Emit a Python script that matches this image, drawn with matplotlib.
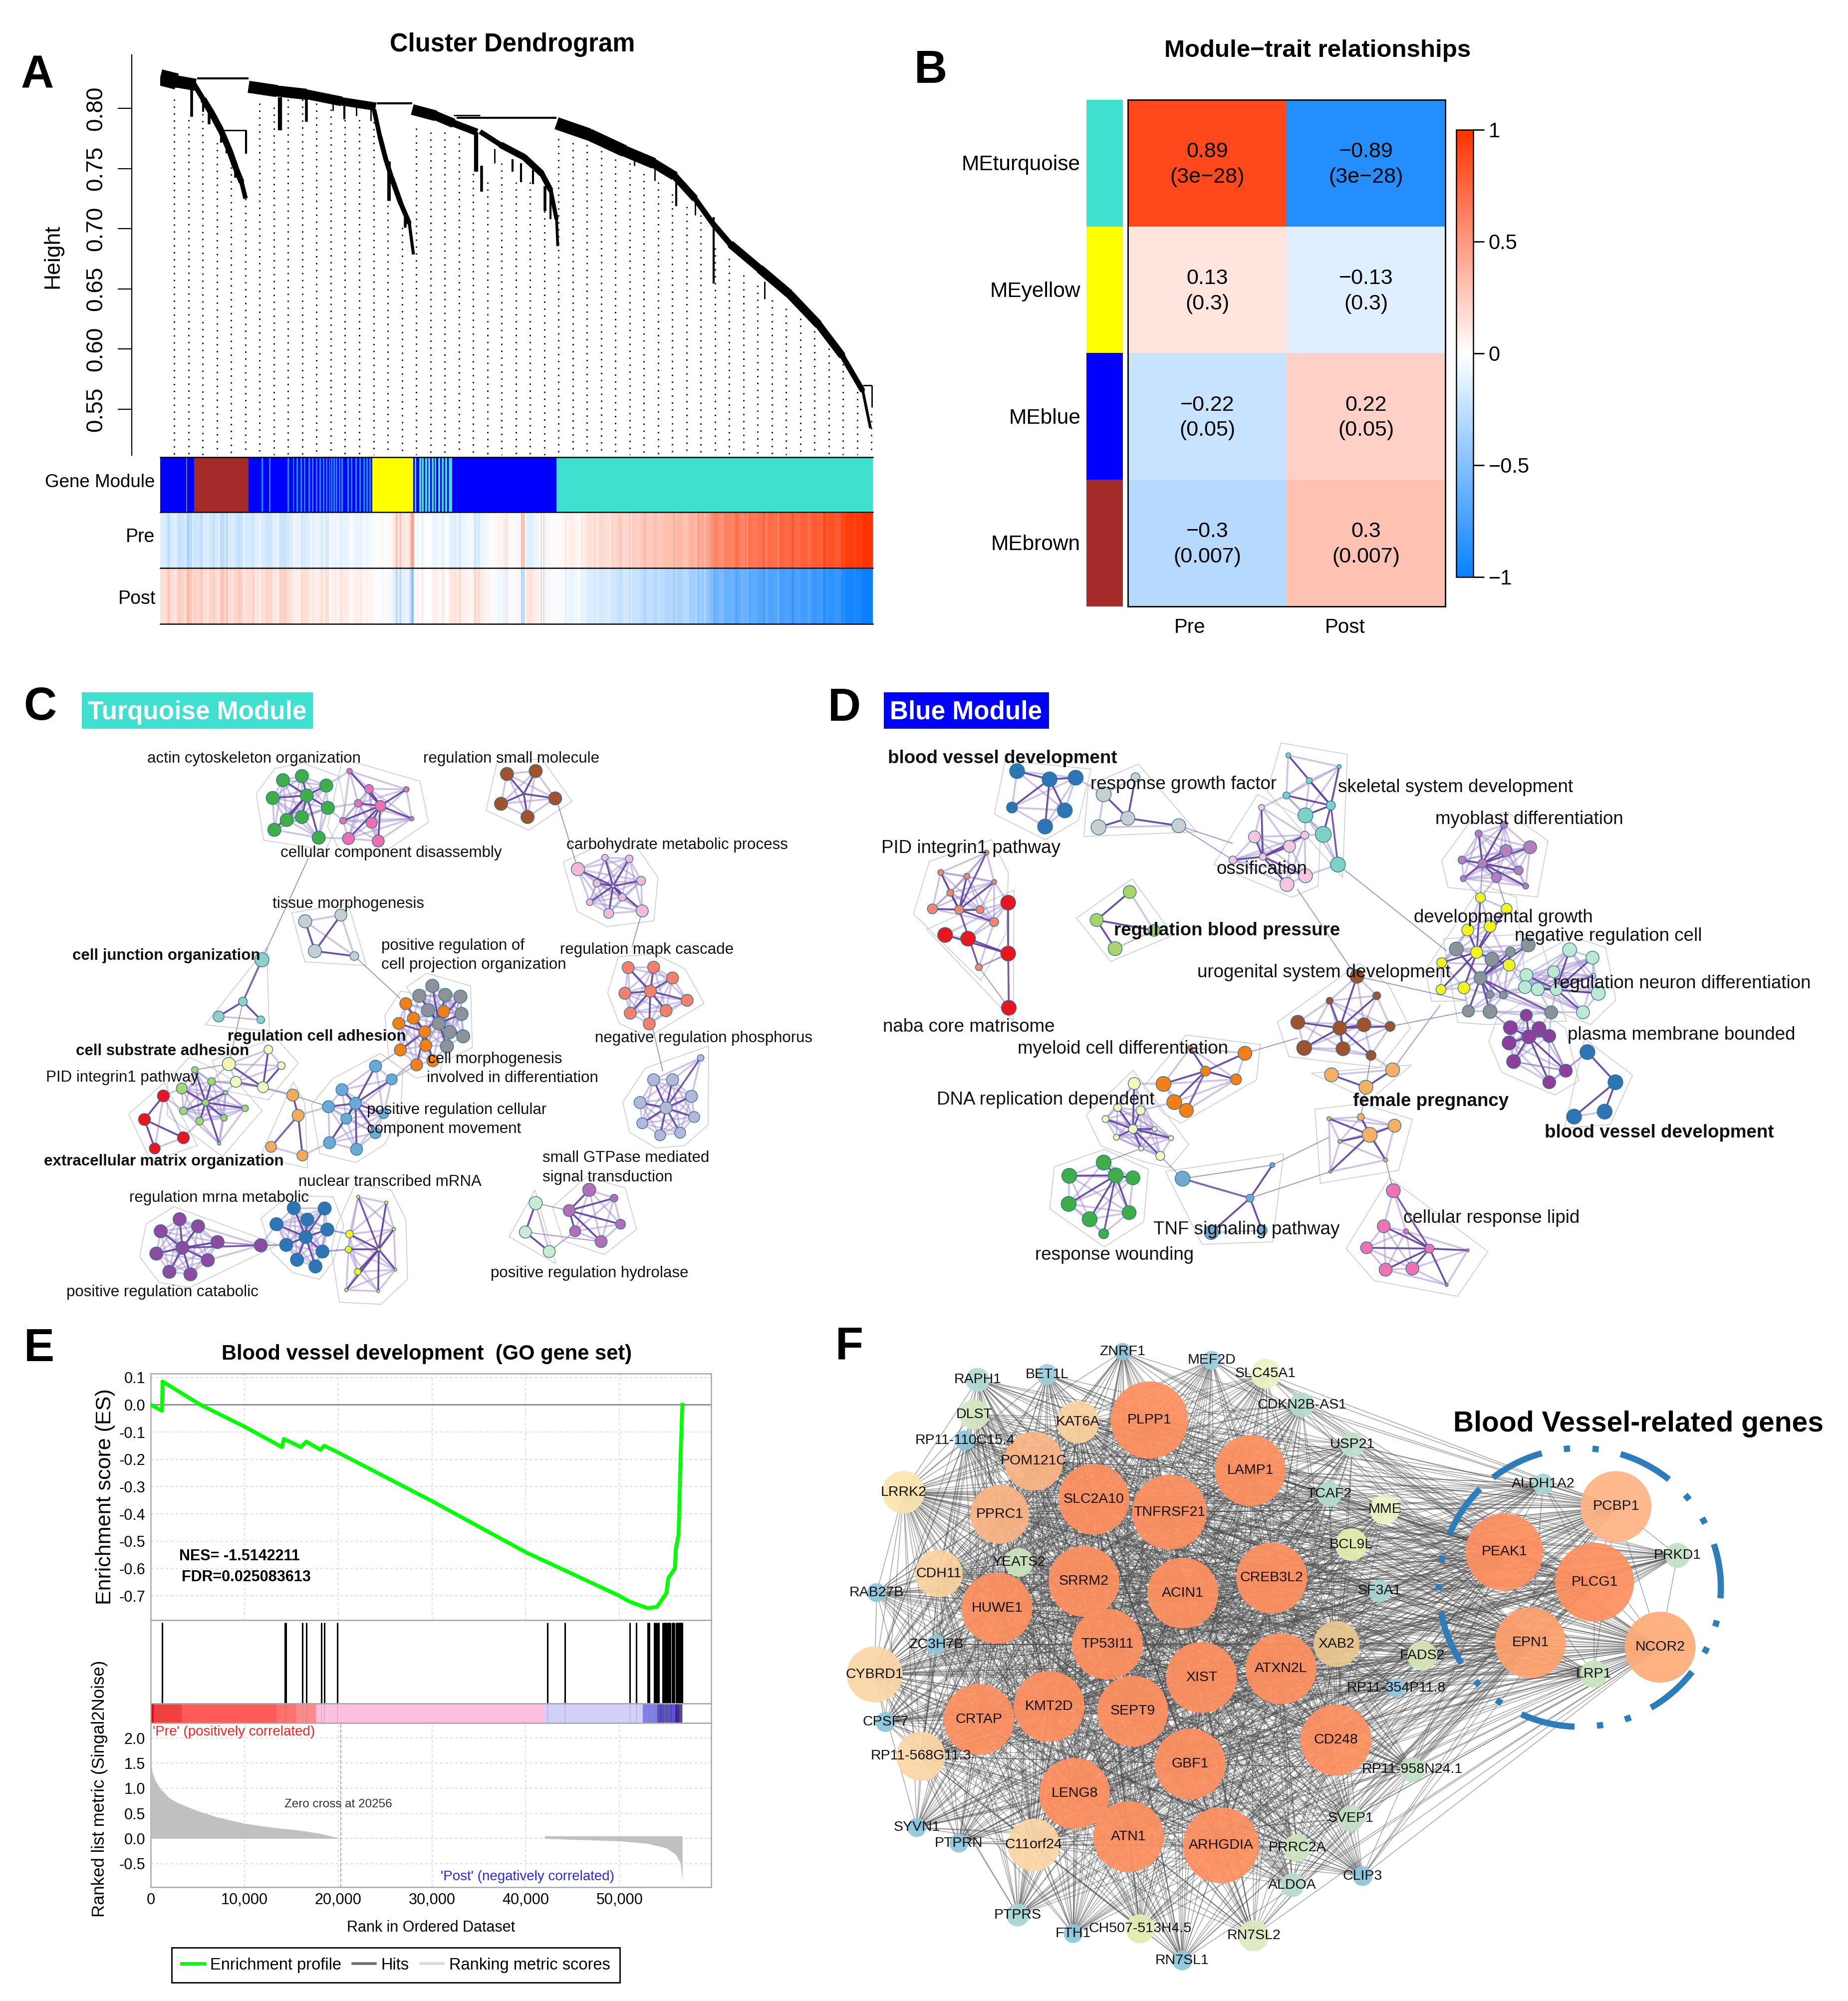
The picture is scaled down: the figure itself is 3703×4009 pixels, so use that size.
import numpy as np
import matplotlib
matplotlib.use("Agg")
import matplotlib.pyplot as plt
from matplotlib.collections import LineCollection
from matplotlib.colors import LinearSegmentedColormap
from matplotlib.lines import Line2D
from matplotlib.patches import Rectangle

plt.rcParams['font.family'] = ['Liberation Sans', 'DejaVu Sans']

W, H = 3703, 4009
PX = 1.389  # pixels per point at dpi 100

# ---------- panel A: dendrogram (x = gene order, y = height) ----------
band_a = ([272, 300, 332], [.8258, .8223, .8196], [27, 20, 15])
band_brown = ([328, 345, 360, 375, 390, 400, 410, 417],
              [.8213, .8076, .7955, .7818, .7646, .7508, .7388, .725],
              [6, 9, 10, 9, 9, 9, 8, 5])
band_c = ([422, 470, 520, 580, 638], [.8179, .8144, .8117, .8058, .8014], [18, 17, 15, 13, 11])
band_d = ([635, 645, 655, 665, 680, 695, 702], [.799, .7766, .7577, .7422, .7216, .7044, .6786],
          [6, 7, 7, 7, 8, 6, 3])
band_e = ([700, 740, 770, 810], [.799, .7938, .7876, .7801], [16, 15, 12, 9])
band_f = ([815, 850, 890, 920, 935, 945, 947], [.7807, .7697, .7594, .7457, .7319, .7078, .6855],
          [6, 9, 10, 9, 7, 5, 3])
band_g = ([945, 1000, 1060, 1110, 1145, 1180, 1210, 1240, 1290, 1340, 1390, 1430, 1465, 1478],
          [.7876, .7783, .7646, .7543, .7439, .725, .7044, .6872, .6666, .6459, .6202, .5944, .5651, .5342],
          [18, 18, 17, 15, 12, 9, 7, 10, 13, 13, 12, 10, 6, 2])
# spikes and merges: x1, x2, height top, height bottom, width
dendro_segments = [
    (325, 325, .8230, .7928, 4), (345, 345, .8093, .7972, 3), (355, 355, .7972, .7869, 4),
    (375, 375, .7801, .7715, 3), (385, 385, .7732, .7629, 3), (400, 400, .7525, .7422, 4),
    (475, 475, .8093, .7818, 6), (520, 520, .8144, .7887, 4), (565, 565, .8041, .7979, 2),
    (585, 585, .8024, .7911, 3), (605, 605, .8007, .7938, 2), (630, 630, .799, .7897, 2),
    (660, 660, .756, .7233, 5), (688, 688, .7147, .701, 4), (808, 808, .78, .7474, 6),
    (818, 818, .7525, .7309, 4), (840, 840, .7663, .7543, 2), (870, 870, .7577, .7474, 3),
    (885, 885, .7543, .7388, 3), (905, 905, .7491, .7371, 3), (925, 925, .7354, .7147, 4),
    (935, 935, .7285, .7078, 3), (1077, 1077, .7594, .7525, 2), (1112, 1112, .7508, .7398, 2),
    (1148, 1148, .7474, .7188, 3), (1180, 1180, .7216, .7113, 2), (1212, 1212, .7096, .6545, 3),
    (1298, 1298, .6563, .6418, 2),
    (335, 422, .8248, .8248, 3), (380, 418, .7818, .7818, 2), (418, 418, .7818, .7622, 3),
    (640, 700, .8041, .8041, 3), (775, 945, .7921, .7921, 3), (770, 815, .7941, .7941, 2),
    (1465, 1480, .5697, .5697, 2), (1480, 1480, .5697, .5515, 2),
]
guide_tops = [.8076, .7904, .7955, .7715, .7629, .725, .8041, .8007, .8076, .8076, .8041, .799, .7904,
              .7904, .7887, .725, .701, .7835, .78, .78, .7766, .7457, .7388, .7543, .7388, .7388,
              .7147, .7749, .7715, .7697, .7646, .7577, .7543, .7457, .7388, .7285, .7182, .7113,
              .6838, .6752, .6614, .6528, .6408, .6339, .6253, .615, .6064, .5875, .5703, .5462]
guide_first, guide_step = 296, 24.16

module_blocks = [(272, 330, '#0000FF'), (330, 422, '#A52A2A'), (422, 632, '#0000FF'),
                 (632, 702, '#FFFF00'), (702, 768, '#0000FF'), (768, 945, '#0000FF'),
                 (945, 1482, '#40E0D0')]
module_stripes_a = [444, 457, 488, 497, 503, 510, 516, 524, 530, 536, 542, 548, 553, 558, 562, 566,
                    570, 575, 580, 590, 596, 603, 610, 617, 622, 627]
module_stripes_b = [704, 712, 716, 722, 727, 733, 738, 744, 750, 756, 762, 765]

pre_segments = [
    (272, 330, [-.15, -.18, -.15, -.22, -.18, -.28]),
    (330, 422, [-.2, -.16, -.2, -.17, -.28, -.16, -.18, -.22, -.16]),
    (422, 632, [-.17, -.13, -.16, -.2, -.13, -.22, -.17, -.13, -.09, -.16, -.13, -.09, -.1, -.15, -.08, -.07,
                -.1, -.05, -.08, -.05, -.07]),
    (632, 702, [-.03, 0, .02, -.02, .05, .12, .16, .12, .1, .2]),
    (702, 945, [-.05, -.02, 0, -.08, -.05, -.02, -.12, -.17, -.08, -.05, -.12, -.08, -.05, .03, .06, .08,
                .03, -.04, -.08, -.14, -.08, -.02, -.05, .02]),
    (945, 1210, [.03, .05, .08, .05, .1, .15, .12, .18, .15, .2, .22, .18, .25, .22, .28, .25, .3, .28,
                 .32, .3, .35, .3, .38, .35, .42, .45]),
    (1210, 1482, [.6, .55, .62, .6, .65, .6, .68, .65, .7, .65, .72, .7, .75, .72, .75, .72, .78, .75,
                  .8, .78, .82, .85, .82, .9, .95, .92, .95, 1, 1]),
]
# thin single gene stripes on top of the smooth strip
pre_line_x = [285, 296, 303, 318, 326, 341, 352, 362, 371, 384, 393, 405, 413, 429, 441, 452, 471, 483,
              498, 511, 527, 545, 559, 578, 594, 612, 626, 648, 672, 679, 697, 700, 716, 731, 752, 775,
              806, 812, 833, 858, 885, 888, 918, 922, 960, 983, 1008, 1035, 1052, 1071, 1094, 1118, 1143,
              1167, 1185, 1196, 1206, 1226, 1249, 1268, 1296, 1320, 1345, 1372, 1398, 1425, 1446]
pre_line_v = [-.3, -.12, -.25, -.4, -.12, -.3, -.1, -.28, -.12, -.33, -.12, -.25, -.1, -.24, -.08, -.22,
              -.06, -.24, -.04, -.2, -.04, -.18, -.02, -.16, -.03, -.12, -.02, .04, .32, .3, .42, .5,
              -.12, -.02, -.14, -.02, -.22, -.2, -.02, -.15, .35, .3, -.2, .2, .12, .02, .2, .12, .3,
              .16, .35, .22, .42, .28, .5, .32, .55, .5, .72, .55, .8, .6, .85, .68, .92, .8, 1]

# ---------- panel B ----------
me_names = ['MEturquoise', 'MEyellow', 'MEblue', 'MEbrown']
me_colors = ['#40E0D0', '#FFFF00', '#0000FF', '#A52A2A']
trait_names = ['Pre', 'Post']
cor_pre = [.89, .13, -.22, -.3]
cor_post = [-.89, -.13, .22, .3]
cell_cor_pre = ['0.89', '0.13', '\u22120.22', '\u22120.3']
cell_cor_post = ['\u22120.89', '\u22120.13', '0.22', '0.3']
cell_p = ['(3e\u221228)', '(0.3)', '(0.05)', '(0.007)']

# ---------- panel C: clusters of (x, y, size) ----------
c_green = [(523, 257, 24), (558, 247, 24), (603, 270, 24), (504, 300, 24), (567, 294, 24), (606, 324, 24),
           (530, 353, 24), (558, 346, 24), (507, 377, 24), (589, 396, 24)]
c_pink = [(646, 235, 10), (682, 278, 16), (751, 279, 10), (662, 313, 14), (703, 319, 20), (634, 355, 12),
          (687, 360, 20), (761, 350, 8), (644, 398, 22), (699, 404, 22)]
c_brown = [(937, 242, 24), (990, 235, 24), (926, 314, 24), (1026, 301, 24), (975, 346, 24), (968, 290, 4)]
c_lightpink = [(1068, 472, 24), (1118, 444, 12), (1163, 447, 14), (1185, 500, 16), (1103, 506, 14),
               (1133, 513, 6), (1150, 540, 14), (1090, 552, 12), (1125, 579, 18), (1187, 573, 22)]
c_tissue = [(564, 598, 24), (630, 583, 22), (582, 670, 24), (655, 682, 16)]
c_junction = [(484, 691, 26), (449, 792, 16), (404, 828, 20), (482, 836, 14)]
c_salmon = [(1161, 710, 22), (1208, 709, 22), (1243, 735, 22), (1155, 772, 22), (1202, 767, 22),
            (1270, 789, 22), (1165, 820, 22), (1231, 814, 22), (1200, 846, 22)]
c_lavender = [(1295, 928, 12), (1208, 981, 22), (1243, 981, 22), (1183, 1036, 22), (1278, 1021, 22),
              (1231, 1049, 22), (1187, 1086, 20), (1283, 1071, 20), (1220, 1115, 20), (1257, 1109, 20)]
c_grey = [(799, 754, 24), (775, 778, 24), (823, 776, 24), (851, 780, 24), (791, 813, 24), (853, 822, 24),
          (811, 845, 24), (831, 866, 24), (856, 876, 24), (826, 900, 24)]
c_orange = [(750, 797, 22), (820, 816, 22), (764, 832, 22), (737, 845, 22), (785, 865, 22), (787, 898, 22),
            (740, 909, 22), (770, 945, 22), (800, 935, 22)]
c_paleyellow = [(496, 908, 16), (423, 943, 24), (520, 947, 14), (436, 986, 20), (486, 999, 20)]
c_yellowgreen = [(360, 957, 12), (336, 1002, 20), (391, 985, 14), (417, 1012, 8), (380, 1036, 12),
                 (339, 1056, 14), (453, 1050, 12), (414, 1073, 12), (369, 1081, 14), (405, 1135, 6)]
c_red = [(302, 1020, 22), (267, 1077, 22), (339, 1121, 22), (286, 1147, 20)]
c_lightorange = [(541, 1018, 22), (551, 1067, 22), (501, 1143, 20), (559, 1164, 20)]
c_steel = [(694, 948, 22), (724, 980, 20), (632, 1005, 22), (607, 1046, 22), (657, 1038, 22), (640, 1075, 20),
           (709, 1063, 18), (694, 1110, 20), (609, 1133, 22), (659, 1149, 22)]
c_purple = [(332, 1318, 24), (297, 1347, 24), (366, 1335, 24), (289, 1401, 24), (337, 1387, 24),
            (402, 1373, 24), (384, 1417, 24), (313, 1445, 24), (352, 1451, 24), (482, 1381, 24)]
c_blue = [(543, 1291, 24), (600, 1292, 24), (511, 1330, 24), (568, 1319, 24), (605, 1343, 24), (529, 1380, 24),
          (565, 1361, 24), (596, 1396, 24), (549, 1416, 24), (583, 1432, 24)]
c_yellow = [(662, 1264, 6), (714, 1278, 6), (728, 1342, 6), (646, 1354, 14), (644, 1391, 12), (700, 1391, 6),
            (661, 1445, 12), (731, 1440, 5), (640, 1489, 6), (699, 1492, 5)]
c_lilac = [(1089, 1247, 24), (1135, 1267, 14), (1052, 1297, 22), (1147, 1330, 18), (1063, 1347, 20),
           (1111, 1372, 22)]
c_palegreen = [(990, 1279, 24), (971, 1349, 22), (1015, 1396, 22)]
c_clusters = [c_green, c_pink, c_brown, c_lightpink, c_tissue, c_junction, c_salmon, c_lavender, c_grey,
              c_orange, c_paleyellow, c_yellowgreen, c_red, c_lightorange, c_steel, c_purple, c_blue,
              c_yellow, c_lilac, c_palegreen]
c_colors = ['#3FAE49', '#EE6FB0', '#A0522D', '#F4B8D8', '#C8CDD2', '#8ECFC9', '#F47F6B', '#B3B8DA', '#8D9299',
            '#F57F17', '#F2F7B5', '#A8D66E', '#E8171F', '#F5A95B', '#6BAAD6', '#8E4A9E', '#2E75B6', '#F7F120',
            '#B36FB5', '#C9EBCF']
c_bridges = [(570, 445, 484, 691), (1030, 310, 1068, 472), (1187, 573, 1168, 660), (655, 682, 740, 785),
             (1205, 850, 1225, 960), (484, 691, 449, 792), (541, 1018, 607, 1046), (724, 980, 770, 930),
             (436, 986, 541, 1018), (391, 985, 486, 999), (402, 1373, 482, 1381), (482, 1381, 529, 1380),
             (605, 1343, 646, 1354), (596, 1396, 644, 1391), (423, 943, 360, 957), (449, 792, 423, 943),
             (694, 948, 740, 909), (551, 1067, 501, 1143), (1052, 1297, 990, 1279), (1015, 1396, 1063, 1347),
             (1111, 1372, 971, 1349)]
c_labels = ['actin cytoskeleton organization', 'regulation small molecule', 'cellular component disassembly',
            'carbohydrate metabolic process', 'tissue morphogenesis', 'positive regulation of',
            'cell projection organization', 'regulation mapk cascade', 'cell junction organization',
            'regulation cell adhesion', 'negative regulation phosphorus', 'cell substrate adhesion',
            'cell morphogenesis', 'involved in differentiation', 'PID integrin1 pathway',
            'positive regulation cellular', 'component movement', 'extracellular matrix organization',
            'small GTPase mediated', 'signal transduction', 'nuclear transcribed mRNA',
            'regulation mrna metabolic', 'positive regulation hydrolase', 'positive regulation catabolic']
c_label_x = [272, 782, 518, 1047, 504, 705, 705, 1035, 134, 421, 1099, 140, 790, 789, 85, 678, 678, 81, 1003,
             1003, 552, 239, 907, 123]
c_label_y = [203, 203, 431, 412, 554, 655, 701, 665, 679, 875, 879, 910, 929, 975, 974, 1052, 1098, 1176, 1168,
             1215, 1226, 1265, 1447, 1492]
c_bold = ['cell junction organization', 'regulation cell adhesion', 'cell substrate adhesion',
          'extracellular matrix organization']

# ---------- panel D ----------
d_blue = [(265, 235, 30), (316, 255, 30), (357, 251, 30), (340, 330, 30), (257, 323, 22), (309, 369, 30)]
d_grey = [(451, 250, 18), (401, 291, 30), (439, 349, 28), (393, 371, 30), (519, 367, 28)]
d_teal = [(691, 197, 10), (771, 224, 8), (724, 258, 12), (688, 294, 14), (758, 318, 18), (718, 342, 30),
          (746, 388, 32), (769, 461, 30)]
d_ossif = [(649, 323, 12), (638, 394, 24), (717, 390, 16), (693, 417, 24), (604, 450, 16), (651, 442, 14),
           (718, 488, 28), (689, 509, 28)]
d_salmon = [(217, 432, 10), (145, 480, 12), (186, 489, 12), (229, 503, 10), (160, 529, 14), (132, 568, 20),
            (174, 570, 18), (207, 570, 16), (229, 600, 18), (205, 709, 14)]
d_red = [(251, 553, 30), (152, 631, 30), (188, 640, 30), (251, 676, 30), (252, 807, 30)]
d_yellowgreen = [(442, 527, 26), (390, 595, 26), (480, 620, 24), (419, 664, 28)]
d_lilac = [(990, 386, 14), (1030, 365, 14), (1071, 419, 26), (1033, 427, 24), (964, 450, 16), (996, 458, 18),
           (1053, 475, 18), (966, 495, 12), (1018, 492, 20), (1064, 513, 12)]
d_yellow = [(993, 541, 20), (1034, 568, 22), (973, 619, 24), (1008, 610, 24), (932, 698, 20), (987, 673, 24),
            (1038, 704, 24), (931, 763, 20), (967, 759, 24)]
d_darkgrey = [(955, 665, 28), (1040, 672, 20), (1068, 655, 28), (1011, 690, 28), (993, 735, 26), (1008, 775, 16),
              (1029, 776, 16), (974, 815, 24), (1008, 816, 28), (1104, 818, 26)]
d_mint = [(1133, 667, 28), (1169, 686, 26), (1108, 720, 24), (1065, 728, 26), (1063, 757, 26), (1083, 762, 26),
          (1112, 763, 24), (1178, 772, 28), (1154, 818, 26), (1170, 730, 10)]
d_purple = [(1065, 825, 24), (1040, 855, 28), (1085, 857, 28), (1069, 877, 28), (1101, 875, 26), (1038, 892, 28),
            (1045, 937, 28), (1127, 959, 26), (1101, 987, 26)]
d_blue2 = [(1161, 914, 30), (1205, 987, 30), (1188, 1058, 30), (1140, 1070, 30)]
d_brown = [(799, 731, 28), (830, 778, 16), (756, 790, 14), (706, 842, 28), (772, 856, 28), (810, 848, 28),
           (851, 852, 20), (716, 904, 30), (777, 906, 28), (821, 922, 20)]
d_orange = [(537, 904, 10), (623, 917, 28), (561, 960, 20), (609, 980, 22), (495, 991, 30), (512, 1035, 30),
            (531, 1055, 28)]
d_paleyellow = [(449, 990, 24), (423, 1048, 16), (459, 1055, 18), (404, 1076, 14), (447, 1100, 18), (481, 1100, 10),
                (421, 1120, 12), (507, 1122, 10), (460, 1147, 10), (490, 1165, 18)]
d_lightorange = [(759, 969, 28), (855, 957, 28), (813, 999, 28)]
d_pregnancy = [(805, 1071, 14), (858, 1092, 26), (819, 1114, 30), (755, 1075, 8), (772, 1130, 8), (844, 1175, 8),
               (757, 1203, 6)]
d_green = [(401, 1181, 30), (347, 1213, 30), (420, 1212, 30), (447, 1218, 28), (346, 1281, 30), (379, 1318, 30),
           (441, 1302, 28), (401, 1353, 20)]
d_sky = [(525, 1220, 30), (666, 1187, 10), (631, 1267, 16), (570, 1350, 28), (650, 1345, 20)]
d_hotpink = [(856, 1249, 28), (841, 1335, 26), (876, 1347, 10), (814, 1387, 24), (913, 1389, 18), (973, 1393, 6),
             (844, 1440, 26), (886, 1437, 26), (940, 1477, 6)]
d_clusters = [d_blue, d_grey, d_teal, d_ossif, d_salmon, d_red, d_yellowgreen, d_lilac, d_yellow, d_darkgrey,
              d_mint, d_purple, d_blue2, d_brown, d_orange, d_paleyellow, d_lightorange, d_pregnancy, d_green,
              d_sky, d_hotpink]
d_colors = ['#2E75B6', '#C9CED3', '#7FD0C6', '#F7C5DE', '#F4846E', '#E8171F', '#A9D46B', '#B77BBE', '#F7F120',
            '#8D9299', '#BFE8D2', '#8E3F9B', '#2E75B6', '#A0522D', '#F57F17', '#F6F7B8', '#F5B063', '#F5B063',
            '#3FAE49', '#74A9CF', '#EE72B4']
d_bridges = [(519, 367, 604, 410), (604, 450, 519, 367), (769, 461, 940, 670), (705, 520, 795, 725),
             (799, 731, 970, 790), (851, 852, 975, 815), (623, 917, 706, 880), (531, 1055, 561, 960),
             (855, 957, 930, 800), (821, 922, 813, 999), (813, 999, 805, 1071), (844, 1175, 856, 1249),
             (490, 1165, 525, 1220), (401, 1181, 460, 1147), (525, 1220, 666, 1187), (525, 1220, 631, 1267),
             (666, 1187, 755, 1120), (631, 1267, 757, 1203), (205, 709, 252, 807), (251, 676, 205, 709),
             (1045, 937, 1127, 959), (1101, 875, 1127, 959), (1034, 568, 1018, 492), (993, 541, 996, 458),
             (1040, 855, 1008, 816), (1101, 987, 1161, 914)]
d_labels = ['blood vessel development', 'response growth factor', 'skeletal system development',
            'myoblast differentiation', 'PID integrin1 pathway', 'ossification', 'developmental growth',
            'regulation blood pressure', 'negative regulation cell', 'urogenital system development',
            'regulation neuron differentiation', 'naba core matrisome', 'plasma membrane bounded',
            'myeloid cell differentiation', 'DNA replication dependent', 'female pregnancy',
            'blood vessel development', 'cellular response lipid', 'TNF signaling pathway', 'response wounding']
d_label_x = [62, 380, 769, 922, 52, 578, 888, 417, 1047, 548, 1108, 54, 1130, 266, 139, 793, 1094, 872, 479, 293]
d_label_y = [203, 265, 273, 350, 420, 470, 587, 618, 632, 720, 746, 851, 871, 905, 1028, 1031, 1107, 1313, 1341,
             1403]
d_bold = ['blood vessel development', 'regulation blood pressure', 'female pregnancy']

# ---------- panel E ----------
es_rank = [0, 1200, 1260, 5300, 10000, 14000, 14200, 16000, 16600, 18100, 18500, 20000, 30000, 40000, 50000,
           51000, 53000, 54000, 55000, 55200, 55900, 56000, 56300, 56400, 56500, 56700]
es_score = [0, -.022, .085, 0, -.08, -.155, -.125, -.155, -.135, -.165, -.15, -.175, -.353, -.54, -.7, -.72,
            -.745, -.74, -.69, -.635, -.6, -.53, -.475, -.35, -.2, 0]
hit_ranks = [1250, 14300, 14450, 16200, 16600, 18200, 18500, 19900, 42300, 44200, 51100, 51800, 53000, 53150,
             53700, 53800, 53950, 54100, 54200, 54600, 54750, 54850, 54950, 55050, 55150, 55250, 55300, 55400,
             55600, 55700, 55750, 55850, 56050, 56150, 56200, 56300, 56350, 56400, 56450, 56500, 56550, 56600,
             56650, 56700]
bar_edges = [0, 300, 3300, 13400, 15500, 17600, 42000, 52500, 54000, 56000, 56700]
bar_colors = ['#F00020', '#F04040', '#FF5A5A', '#FF7070', '#FF8A8A', '#FFBFE3', '#D2D0F8', '#8080E8', '#5040D8',
              '#200090']
metric_rank_pos = [0, 200, 500, 1000, 2000, 3000, 5000, 7000, 10000, 13000, 16000, 18000, 20256]
metric_pos = [1.55, 1.3, 1.15, 1.0, .8, .7, .55, .43, .3, .22, .16, .1, 0]
metric_rank_neg = [42000, 45000, 50000, 53000, 55000, 56000, 56500, 56700]
metric_neg = [0, -.02, -.05, -.1, -.19, -.32, -.49, -.84]

# ---------- panel F ----------
hub_names = ['PLPP1', 'LAMP1', 'SLC2A10', 'TNFRSF21', 'SRRM2', 'ACIN1', 'CREB3L2', 'HUWE1', 'TP53I11', 'XIST',
             'ATXN2L', 'KMT2D', 'CRTAP', 'SEPT9', 'GBF1', 'CD248', 'LENG8', 'ATN1', 'ARHGDIA', 'PEAK1', 'PLCG1',
             'EPN1', 'NCOR2', 'PCBP1', 'POM121C', 'PPRC1', 'KAT6A', 'CDH11', 'CYBRD1', 'RP11-568G11.3', 'C11orf24',
             'XAB2', 'LRRK2']
hub_x = [525, 676, 442, 555, 427, 575, 708, 297, 462, 603, 722, 375, 270, 500, 586, 804, 413, 494, 632, 1056, 1191,
         1095, 1289, 1223, 352, 301, 418, 210, 114, 183, 352, 805, 157]
hub_y = [225, 342, 408, 438, 598, 625, 590, 660, 743, 820, 800, 887, 917, 898, 1020, 965, 1088, 1188, 1208, 530, 600,
         740, 750, 425, 320, 443, 230, 580, 813, 1002, 1207, 743, 392]
hub_size = [155, 142, 142, 150, 142, 142, 142, 142, 142, 142, 142, 142, 142, 142, 142, 142, 142, 142, 152, 155, 158,
            142, 142, 142, 118, 118, 85, 95, 112, 98, 105, 92, 85]
hub_color = ['#FF9060'] * 21 + ['#FFA06C', '#FFAC78', '#FFB484', '#FBB585', '#FBB585', '#FBD29F', '#FBD29F', '#FCD7A6',
                                '#FCD7A6', '#FCD7A6', '#EBC88F', '#FCE5B0']
leaf_names = ['ZNRF1', 'MEF2D', 'SLC45A1', 'RAPH1', 'BET1L', 'CDKN2B-AS1', 'DLST', 'RP11-110C15.4', 'USP21', 'TCAF2',
              'MME', 'BCL9L', 'YEATS2', 'SF3A1', 'RAB27B', 'ZC3H7B', 'FADS2', 'RP11-354P11.8', 'CPSF7', 'RP11-958N24.1',
              'SVEP1', 'SYVN1', 'PTPRN', 'PRRC2A', 'ALDOA', 'CLIP3', 'PTPRS', 'FTH1', 'CH507-513H4.5', 'RN7SL2',
              'RN7SL1', 'ALDH1A2', 'PRKD1', 'LRP1']
leaf_x = [485, 618, 699, 268, 372, 753, 263, 249, 829, 794, 877, 827, 330, 869, 117, 206, 933, 894, 130, 918, 826, 177,
          240, 746, 739, 844, 328, 411, 511, 681, 574, 1114, 1315, 1190]
leaf_y = [67, 87, 118, 132, 120, 190, 212, 272, 282, 396, 432, 513, 554, 620, 624, 744, 770, 844, 923, 1033, 1146, 1167,
          1203, 1214, 1300, 1279, 1369, 1412, 1401, 1417, 1474, 373, 538, 812]
leaf_size = [35, 38, 60, 48, 42, 50, 60, 40, 50, 50, 60, 65, 58, 45, 38, 40, 60, 38, 40, 50, 52, 38, 38, 55, 48, 40, 46,
             38, 58, 62, 40, 42, 50, 55]
leaf_color = ['#8FC6D8', '#A0CEDC', '#EEF3C5', '#B3DCD6', '#A0CEDC', '#B5DCCF', '#D4E7C0', '#8FC6DC', '#BFE0CD',
              '#B5DCCF', '#EEF3C5', '#E3EDB0', '#CDE4BE', '#A8D5D5', '#8FC6DC', '#8FC6DC', '#D5E5B5', '#8FC6DC',
              '#8FC6DC', '#C2E0C5', '#C2E0C5', '#8FC6DC', '#8FC6DC', '#CDE4BE', '#B5DCCF', '#8FC6DC', '#A8D5D5',
              '#8FC6DC', '#E3EDB0', '#DDEBC0', '#8FC6DC', '#A8D5D5', '#C2E0C5', '#C9E5BE']


def px_axes(fig, x0, y0, x1, y1):
    """Axes placed by pixel box in the output image (y from the top)."""
    return fig.add_axes([x0 / W, 1 - y1 / H, (x1 - x0) / W, (y1 - y0) / H])


def draw_branch(ax, branch):
    xs, ys, widths = branch
    segs = [[(xs[i], ys[i]), (xs[i + 1], ys[i + 1])] for i in range(len(xs) - 1)]
    lw = [(widths[i] + widths[i + 1]) / 2 for i in range(len(xs) - 1)]
    ax.add_collection(LineCollection(segs, colors='k', linewidths=lw, capstyle='butt'))
    # joints between pieces of different slope
    ax.scatter(xs[1:-1], ys[1:-1], s=[w ** 2 * .8 for w in widths[1:-1]], color='k', linewidths=0)


def panel_a(fig):
    ax = px_axes(fig, 321, 110, 1749, 912)
    ax.set_xlim(272, 1482)
    ax.set_ylim(.5118, .8444)
    for b in [band_a, band_brown, band_c, band_d, band_e, band_f, band_g]:
        draw_branch(ax, b)
    for x1, x2, h1, h2, w in dendro_segments:
        ax.plot([x1, x2], [h1, h2], color='k', lw=w, solid_capstyle='butt')
    for i, top in enumerate(guide_tops):
        x = guide_first + i * guide_step
        ax.plot([x, x], [top, .5118], color='k', lw=2.0, ls=(0, (1, 4)))
    for s in ['top', 'right', 'bottom']:
        ax.spines[s].set_visible(False)
    ax.spines['left'].set_position(('outward', 41))
    ax.spines['left'].set_linewidth(1.6)
    ax.set_xticks([])
    ax.set_yticks([.55, .6, .65, .7, .75, .8])
    ax.set_yticklabels(['0.55', '0.60', '0.65', '0.70', '0.75', '0.80'], rotation=90, va='center', fontsize=33)
    ax.tick_params(axis='y', length=20, width=1.6, pad=16)

    # module strip
    m = px_axes(fig, 321, 916, 1749, 1026)
    m.set_xlim(272, 1482)
    m.set_ylim(0, 1)
    for x0, x1, c in module_blocks:
        m.bar(x0, 1, x1 - x0, align='edge', color=c, linewidth=0)
    for x in module_stripes_a:
        m.bar(x, 1, 2.5, align='edge', color='#1E88FF', linewidth=0)
    for x in module_stripes_b:
        m.bar(x, 1, 3, align='edge', color='#40E0D0', linewidth=0)
    m.bar(316, 1, 1.5, align='edge', color='#808080', linewidth=0)
    m.set_xticks([])
    m.set_yticks([])
    for s in ['left', 'right']:
        m.spines[s].set_visible(False)
    for s in ['top', 'bottom']:
        m.spines[s].set_linewidth(1.8)

    for sign, y0, y1 in [(1, 1028, 1138), (-1, 1140, 1250)]:
        st = px_axes(fig, 321, y0, 1749, y1)
        st.set_xlim(272, 1482)
        st.set_ylim(0, 1)
        for x0, x1, vals in pre_segments:
            edges = np.linspace(x0, x1, len(vals) + 1)
            st.pcolormesh(edges, [0, 1], sign * np.array([vals]), cmap=trait_cmap, vmin=-1, vmax=1)
        for x, v in zip(pre_line_x, pre_line_v):
            st.bar(x, 1, 2.5, align='edge', color=trait_cmap((sign * v + 1) / 2), linewidth=0)
        st.set_xticks([])
        st.set_yticks([])
        for s in ['left', 'right', 'top']:
            st.spines[s].set_visible(False)
        st.spines['bottom'].set_linewidth(1.8)


def panel_b(fig):
    strip = px_axes(fig, 2177, 200, 2250, 1215)
    strip.set_xlim(0, 1)
    strip.set_ylim(4, 0)
    for i, c in enumerate(me_colors):
        strip.bar(0, 1, 1, bottom=i, align='edge', color=c, linewidth=0)
    strip.axis('off')

    ax = px_axes(fig, 2260, 200, 2896, 1215)
    grid = np.array([cor_pre, cor_post]).T
    mesh = ax.pcolormesh([0, 1, 2], [0, 1, 2, 3, 4], grid, cmap=trait_cmap, vmin=-1, vmax=1)
    ax.set_ylim(4, 0)
    ax.set_xticks([])
    ax.set_yticks([])
    for s in ax.spines.values():
        s.set_linewidth(2)
    for i in range(4):
        ax.text(.5, i + .41, cell_cor_pre[i], ha='center', va='center', fontsize=31)
        ax.text(.5, i + .61, cell_p[i], ha='center', va='center', fontsize=31)
        ax.text(1.5, i + .41, cell_cor_post[i], ha='center', va='center', fontsize=31)
        ax.text(1.5, i + .61, cell_p[i], ha='center', va='center', fontsize=31)

    cax = px_axes(fig, 2918, 260, 2952, 1156)
    cb = fig.colorbar(mesh, cax=cax, ticks=[-1, -.5, 0, .5, 1])
    cb.ax.set_yticklabels(['\u22121', '\u22120.5', '0', '0.5', '1'], fontsize=30)
    cb.ax.tick_params(length=16, width=2, pad=6)
    cb.outline.set_linewidth(1.8)


def convex_hull(points):
    pts = sorted(set(points))
    if len(pts) < 3:
        return pts

    def half(seq):
        out = []
        for p in seq:
            while len(out) >= 2 and (out[-1][0] - out[-2][0]) * (p[1] - out[-2][1]) - \
                    (out[-1][1] - out[-2][1]) * (p[0] - out[-2][0]) <= 0:
                out.pop()
            out.append(p)
        return out[:-1]

    return half(pts) + half(pts[::-1])


def draw_network(ax, clusters, colors, bridges, size_scale):
    spokes, links = [], []
    for nodes in clusters:
        xy = np.array([(n[0], n[1]) for n in nodes], dtype=float)
        centre = xy.mean(axis=0)
        hub = xy[np.argmin(((xy - centre) ** 2).sum(axis=1))]
        for p in xy:
            if p[0] != hub[0] or p[1] != hub[1]:
                spokes.append([tuple(hub), tuple(p)])
        for i in range(len(xy)):
            for j in range(i + 1, len(xy)):
                if np.hypot(*(xy[i] - xy[j])) < 130:
                    links.append([tuple(xy[i]), tuple(xy[j])])
        hull = np.array(convex_hull([tuple(p) for p in xy]))
        if len(hull) >= 3:
            d = hull - centre
            hull = hull + d / np.maximum(np.hypot(d[:, 0], d[:, 1]), 1)[:, None] * 32
            ax.fill(hull[:, 0], hull[:, 1], facecolor='none', edgecolor='#CFCFCF', lw=1.3, zorder=1)
    # neighbours from different clusters tangle where groups touch
    for a in range(len(clusters)):
        for b in range(a + 1, len(clusters)):
            for p in clusters[a]:
                for q in clusters[b]:
                    if np.hypot(p[0] - q[0], p[1] - q[1]) < 60:
                        links.append([(p[0], p[1]), (q[0], q[1])])
    ax.add_collection(LineCollection(links, colors='#A493D2', linewidths=2.6, alpha=.55, zorder=2))
    ax.add_collection(LineCollection(spokes, colors='#5E3B9E', linewidths=2.6, alpha=.85, zorder=2))
    br = [[(b[0], b[1]), (b[2], b[3])] for b in bridges]
    ax.add_collection(LineCollection(br, colors='#8E78BE', linewidths=1.4, alpha=.8, zorder=2))
    for nodes, color in zip(clusters, colors):
        xs = [n[0] for n in nodes]
        ys = [n[1] for n in nodes]
        s = [(n[2] * size_scale / PX) ** 2 for n in nodes]
        ax.scatter(xs, ys, s=s, color=color, edgecolors='#2B7390', linewidths=1.0, zorder=3)


def panel_net(fig, box, clusters, colors, bridges, labels, lx, ly, bold, size_scale, fs):
    ax = px_axes(fig, *box)
    ax.set_xlim(0, 1568)
    ax.set_ylim(1568, 0)
    ax.axis('off')
    draw_network(ax, clusters, colors, bridges, size_scale)
    for s, x, y in zip(labels, lx, ly):
        ax.text(x, y + 2, s, ha='left', va='center', fontsize=fs, zorder=5, color='#111111',
                fontweight='bold' if s in bold else 'normal')


def panel_e(fig):
    xmax = 59775
    ax = px_axes(fig, 302, 2752, 1425, 3246)
    ax.plot(es_rank, es_score, color='#00FF00', lw=5.5, zorder=3, solid_joinstyle='round')
    ax.axhline(0, color='#8A8A8A', lw=2, zorder=2)
    ax.set_ylim(-.789, .114)
    ax.set_yticks([.1, 0, -.1, -.2, -.3, -.4, -.5, -.6, -.7])
    ax.set_yticklabels(['0.1', '0.0', '-0.1', '-0.2', '-0.3', '-0.4', '-0.5', '-0.6', '-0.7'])
    ax.set_ylabel('Enrichment score (ES)', fontsize=31, labelpad=5)
    ax.text(3050, -.555, 'NES= -1.5142211', fontsize=22, fontweight='bold', va='center')
    ax.text(3300, -.632, 'FDR=0.025083613', fontsize=22, fontweight='bold', va='center')

    hits = px_axes(fig, 302, 3246, 1425, 3413)
    hits.vlines(hit_ranks, 0, .97, color='k', lw=2.2)
    hits.set_ylim(0, 1)
    hits.set_yticks([])

    bar = px_axes(fig, 302, 3413, 1425, 3452)
    for i, c in enumerate(bar_colors):
        bar.bar(bar_edges[i], 1, bar_edges[i + 1] - bar_edges[i], align='edge', color=c, linewidth=0)
    bar.vlines(hit_ranks, 0, 1, color='#808080', lw=.8, alpha=.5)
    bar.set_ylim(0, 1)
    bar.set_yticks([])

    met = px_axes(fig, 302, 3452, 1425, 3781)
    met.fill_between(metric_rank_pos, 0, metric_pos, color='#C0C0C0', linewidth=0, zorder=3)
    met.fill_between(metric_rank_neg, .05, metric_neg, color='#C0C0C0', linewidth=0, zorder=3)
    met.axvline(20256, color='#A8A8A8', lw=1.4, ls='--', zorder=2)
    met.set_ylim(-.97, 2.3)
    met.set_yticks([2, 1.5, 1, .5, 0, -.5])
    met.set_yticklabels(['2.0', '1.5', '1.0', '0.5', '0.0', '-0.5'])
    met.set_ylabel('Ranked list metric (Singal2Noise)', fontsize=25, labelpad=12)
    met.yaxis.set_label_coords(-.077, .6)
    met.set_xlabel('Rank in Ordered Dataset', fontsize=22, labelpad=18)
    met.set_xticks([0, 10000, 20000, 30000, 40000, 50000])
    met.set_xticklabels(['0', '10,000', '20,000', '30,000', '40,000', '50,000'])
    met.text(200, 2.12, "'Pre' (positively correlated)", color='#FF2020', fontsize=20, va='center')
    met.text(30900, -.76, "'Post' (negatively correlated)", color='#2A2AF0', fontsize=20, va='center')
    met.text(20000, .68, 'Zero cross at 20256', color='#333333', fontsize=17.5, ha='center', va='center')

    for a in [ax, hits, bar, met]:
        a.set_xlim(0, xmax)
        for s in a.spines.values():
            s.set_color('#A8A8A8')
            s.set_linewidth(1.8)
        a.tick_params(axis='both', length=0, labelsize=22, pad=8)
    for a in [ax, met]:
        a.grid(True, color='#D8D8D8', ls=(0, (3, 3)), lw=1.2)
        a.set_axisbelow(True)
    ax.set_xticks([10000, 20000, 30000, 40000, 50000])
    ax.set_xticklabels([])
    hits.set_xticks([])
    bar.set_xticks([])

    handles = [Line2D([], [], color='#00FF00', lw=5), Line2D([], [], color='#707070', lw=4),
               Line2D([], [], color='#D8D8D8', lw=4)]
    fig.legend(handles, ['Enrichment profile', 'Hits', 'Ranking metric scores'], ncol=3, fontsize=23.5,
               loc='center', bbox_to_anchor=(793 / W, 1 - 3937 / H), fancybox=False, edgecolor='k',
               framealpha=1, handlelength=1.4, columnspacing=.7, handletextpad=.35, borderpad=.6).get_frame().set_linewidth(2)


def panel_f(fig):
    ax = px_axes(fig, 1600, 2650, 3700, 4009)
    ax.set_xlim(0, 1568)
    ax.set_ylim(1568, 0)
    ax.axis('off')
    all_x = hub_x + leaf_x
    all_y = hub_y + leaf_y
    segs = []
    # every hub gene is tied to all others, the small ones only to hubs
    for i in range(len(hub_x)):
        for j in range(len(all_x)):
            if j > i:
                segs.append([(all_x[i], all_y[i]), (all_x[j], all_y[j])])
    ax.add_collection(LineCollection(segs, colors='#4A4A4A', linewidths=1.1, alpha=.5, zorder=1))
    ax.scatter(hub_x, hub_y, s=[(d / PX) ** 2 for d in hub_size], color=hub_color, alpha=.93, linewidths=0, zorder=2)
    ax.scatter(leaf_x, leaf_y, s=[(d / PX) ** 2 for d in leaf_size], color=leaf_color, alpha=.95, linewidths=0, zorder=2)
    for s, x, y in zip(hub_names + leaf_names, all_x, all_y):
        ax.text(x, y, s, ha='center', va='center', fontsize=20.5, color='#111111', zorder=4)
    th = np.radians(np.arange(232, 232 + 360.5, .5))
    ax.plot(1169 + 211 * np.cos(th), 612 + 322 * np.sin(th), color='#2E7DBB', lw=9,
            ls=(0, (8.8, 3.6, 1, 3.6, 1, 3.6)), dash_capstyle='butt', zorder=5)


trait_cmap = LinearSegmentedColormap.from_list('trait', ['#0A80FF', '#FFFFFF', '#FF3300'])

fig = plt.figure(figsize=(W / 100, H / 100), dpi=100, facecolor='white')
panel_a(fig)
panel_b(fig)
panel_net(fig, (0, 1350, 1700, 2650), c_clusters, c_colors, c_bridges, c_labels, c_label_x, c_label_y,
          c_bold, 1.1, 22.5)
panel_net(fig, (1700, 1350, 3700, 2650), d_clusters, d_colors, d_bridges, d_labels, d_label_x, d_label_y,
          d_bold, 1.0, 26.5)
panel_e(fig)
panel_f(fig)

# figure level text, placed in image pixels
ov = fig.add_axes([0, 0, 1, 1], zorder=20)
ov.set_xlim(0, W)
ov.set_ylim(H, 0)
ov.axis('off')
ov.patch.set_alpha(0)

ov.add_patch(Rectangle((164, 1387), 463, 73, color='#40E0D0', linewidth=0))
ov.add_patch(Rectangle((1771, 1387), 331, 73, color='#0000FF', linewidth=0))
ov.text(395, 1427, 'Turquoise Module', color='white', fontsize=37, fontweight='bold', ha='center', va='center')
ov.text(1936, 1427, 'Blue Module', color='white', fontsize=37, fontweight='bold', ha='center', va='center')

for letter, x, y in [('A', 75, 152), ('B', 1865, 142), ('C', 80, 1418), ('D', 1692, 1420), ('E', 78, 2703),
                     ('F', 1702, 2698)]:
    ov.text(x, y, letter, fontsize=66, fontweight='bold', ha='center', va='center')

ov.text(1027, 89, 'Cluster Dendrogram', fontsize=36.5, fontweight='bold', ha='center', va='center')
ov.text(2640, 101, 'Module\u2212trait relationships', fontsize=35.5, fontweight='bold', ha='center', va='center')
ov.text(855, 2713, 'Blood vessel development  (GO gene set)', fontsize=30, fontweight='bold', ha='center', va='center')
ov.text(3283, 2853, 'Blood Vessel-related genes', fontsize=41, fontweight='bold', ha='center', va='center')

ov.text(106, 514, 'Height', fontsize=32, rotation=90, ha='center', va='center')
ov.text(310, 966, 'Gene Module', fontsize=26.5, ha='right', va='center')
ov.text(310, 1076, 'Pre', fontsize=27, ha='right', va='center')
ov.text(312, 1200, 'Post', fontsize=27, ha='right', va='center')

for name, y in zip(me_names, [330, 584, 838, 1091]):
    ov.text(2165, y, name, fontsize=30.5, ha='right', va='center')
ov.text(2384, 1257, trait_names[0], fontsize=29, ha='center', va='center')
ov.text(2695, 1257, trait_names[1], fontsize=29, ha='center', va='center')

plt.savefig('out.png', dpi=100, facecolor='white')
plt.close()
print("saved out.png")
